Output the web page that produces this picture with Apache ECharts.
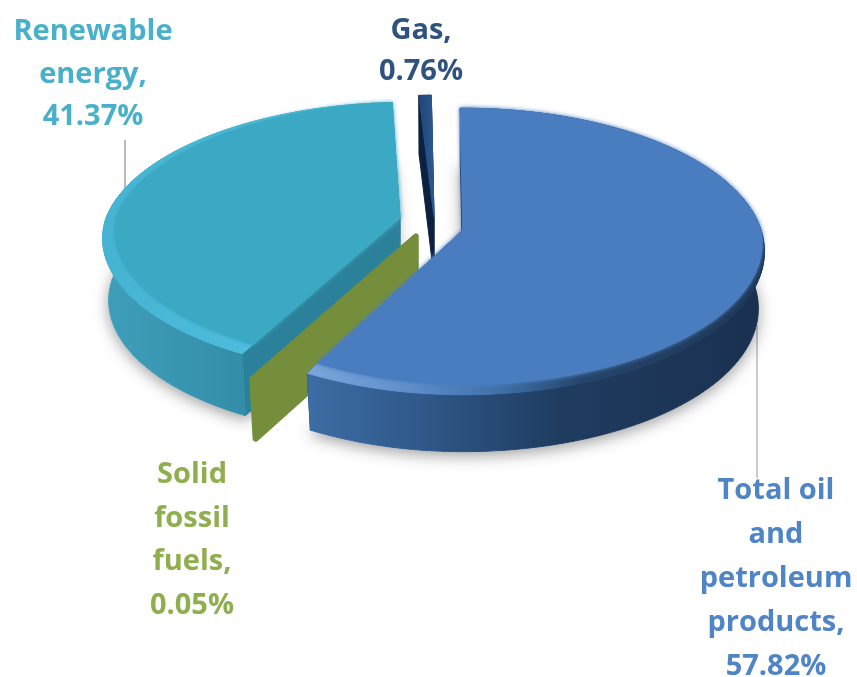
<!DOCTYPE html>
<html>
<head>
<meta charset="utf-8">
<style>html,body{margin:0;padding:0;background:#fff}#chart{width:857px;height:677px}</style>
<script src="https://cdn.jsdelivr.net/npm/echarts@6/dist/echarts.min.js"></script>
</head>
<body>
<div id="chart"></div>
<script>
// Energy mix, share of each source in percent
const categories = ['Total oil and petroleum products', 'Solid fossil fuels', 'Renewable energy', 'Gas'];
const values = [57.82, 0.05, 41.37, 0.76];

// How each source's name breaks over lines in its label
const labelLines = [
  ['Total oil', 'and', 'petroleum', 'products,'],
  ['Solid', 'fossil', 'fuels,'],
  ['Renewable', 'energy,'],
  ['Gas,']
];

// Back-to-front painting order of the exploded slices
const drawOrder = [3, 2, 1, 0];

// Projection of each exploded slice: hub position, radii, extrusion depth,
// lean of the far edge, tuck of the front-left rim
const sliceLayout = [
  { cx: 463, cy: 230, a: 298, b: 140, depth: 57, lean: 0, tuck: 8 },
  { cx: 416, cy: 236, a: 306, b: 140, depth: 60, lean: 0, tuck: 0 },
  { cx: 400, cy: 218, a: 294, b: 133, depth: 62, lean: 7, tuck: 0 },
  { cx: 434, cy: 217, a: 298, b: 140, depth: 60, lean: 0, tuck: 0 }
];
const perspective = 0.15;
const startAngle = -0.6;
const bevelFront = 0.06;
const bevelSide = 0.034;

// Label blocks: centre x, first line centre y, line spacing, colour
const labelLayout = [
  { x: 776, y: 491, gap: 44, color: '#4f85c6' },
  { x: 192, y: 475, gap: 43.6, color: '#8fae4e' },
  { x: 93, y: 32, gap: 42.5, color: '#48b0ca' },
  { x: 421, y: 31, gap: 41, color: '#30527f' }
];

// Surface colours
const lin = (stops) => new echarts.graphic.LinearGradient(0, 0, 1, 0,
  stops.map(([offset, color]) => ({ offset, color })));
const sliceStyle = [
  {
    top: '#4a7dbf',
    soft: 4,
    bevel: lin([[0, '#7aa6dc'], [0.22, '#5f8fcb'], [0.42, '#3f70aa'], [0.6, '#25456c'], [1, '#1c3655']]),
    wall: lin([[0, '#3c6da5'], [0.25, '#30588a'], [0.55, '#1f3c60'], [1, '#1a3050']]),
    cut: '#12294a'
  },
  { top: '#748e3b', soft: 0, bevel: '#748e3b', wall: '#748e3b', cut: '#748e3b', edge: 5 },
  {
    top: '#3ba8c4',
    soft: 4,
    bevel: lin([[0, '#45b4d3'], [0.6, '#50bfdf'], [1, '#49b5d3']]),
    wall: lin([[0, '#3f9fba'], [0.6, '#3089a5'], [1, '#2e86a0']]),
    cut: '#2b8199'
  },
  {
    top: lin([[0, '#1f4576'], [1, '#2c5a90']]),
    soft: 0,
    bevel: '#1f4576',
    wall: '#0c2140',
    cut: '#0c2140'
  }
];

// Leader lines from the slice edge to its label
const leaders = [
  { x: 757, y1: 325, y2: 478, color: '#a8a8a8' },
  null,
  { x: 125, y1: 140, y2: 190, color: '#8c8c8c' },
  null
];

const total = values.reduce((s, v) => s + v, 0);
const sweep = [];
values.reduce((acc, v, i) => {
  const next = acc + v / total * 360;
  sweep[i] = [acc, next];
  return next;
}, startAngle);

// Point on the slice's circle under a simple perspective projection
function rimPoint(l, deg) {
  const t = deg * Math.PI / 180;
  const X = Math.sin(t), Y = Math.cos(t);
  const s = 1 / (1 + perspective * Y);
  const x = l.cx + l.a * X * s + l.lean * Math.max(0, Y) + l.tuck * Math.max(0, -X) * Math.max(0, -Y);
  return { x, y: l.cy - l.b * Y * s, X, Y };
}
const drop = (l, p) => [l.cx + (p[0] - l.cx) * 0.98, p[1] + l.depth];

function arc(l, from, to, map) {
  const pts = [];
  const n = Math.max(2, Math.ceil(to - from));
  for (let k = 0; k <= n; k++) {
    pts.push(map(rimPoint(l, from + (to - from) * k / n)));
  }
  return pts;
}

function renderSlice(params, api) {
  const i = drawOrder[params.dataIndex];
  const l = sliceLayout[i], st = sliceStyle[i], lab = labelLayout[i];
  const [from, to] = sweep[i];
  const hub = [l.cx, l.cy];
  const outer = arc(l, from, to, (p) => [p.x, p.y]);
  // The flat face stops short of the rim along each radius, leaving the bevel
  const flat = arc(l, from, to, (p) => {
    const k = 1 - bevelFront * Math.max(0, -p.Y) - bevelSide * Math.max(0, -p.X);
    return [l.cx + (p.x - l.cx) * k, l.cy + (p.y - l.cy) * k];
  });
  const lower = outer.map((p) => drop(l, p));
  const poly = (points, fill, extra) => ({
    type: 'polygon',
    shape: { points },
    style: Object.assign({ fill, stroke: fill, lineWidth: 1, lineJoin: 'round' }, extra || {})
  });
  const children = [];

  const leader = leaders[i];
  if (leader) {
    children.push({
      type: 'line',
      shape: { x1: leader.x, y1: leader.y1, x2: leader.x, y2: leader.y2 },
      style: { stroke: leader.color, lineWidth: 1.2 }
    });
  }

  // Soft drop shadow under the solid, then its walls
  const shell = outer.concat(lower.slice().reverse());
  const hubDown = drop(l, hub);
  if (values[i] > 1) {
    children.push(poly(lower.concat([hubDown]), '#ffffff', {
      shadowBlur: 14, shadowColor: 'rgba(0,0,0,0.35)', shadowOffsetY: 4
    }));
  }
  const edge = st.edge ? { lineWidth: st.edge } : null;
  const cutWall = (p, q) => [hub, p, q, hubDown];
  children.push(poly(cutWall(outer[0], lower[0]), st.cut, edge));
  children.push(poly(cutWall(outer[outer.length - 1], lower[lower.length - 1]), st.cut, edge));
  children.push(poly(shell, st.wall));
  children.push(poly([hub].concat(outer), st.bevel));
  children.push(poly([hub].concat(flat), st.top, st.soft ? { shadowBlur: st.soft, shadowColor: st.top } : null));

  // Label text: name lines followed by the percentage
  const lines = labelLines[i].concat([api.value(0).toFixed(2) + '%']);
  lines.forEach((text, k) => {
    children.push({
      type: 'text',
      style: {
        text, x: lab.x, y: lab.y + k * lab.gap,
        fill: lab.color, align: 'center', verticalAlign: 'middle',
        font: 'bold 29px "Open Sans", sans-serif'
      }
    });
  });
  return { type: 'group', children };
}

const chart = echarts.init(document.getElementById('chart'), null, { renderer: 'canvas' });
chart.setOption({
  animation: false,
  backgroundColor: '#ffffff',
  series: [{
    type: 'custom',
    coordinateSystem: 'none',
    silent: true,
    data: drawOrder.map((i) => ({ name: categories[i], value: [values[i]] })),
    renderItem: renderSlice
  }]
});
</script>
</body>
</html>
